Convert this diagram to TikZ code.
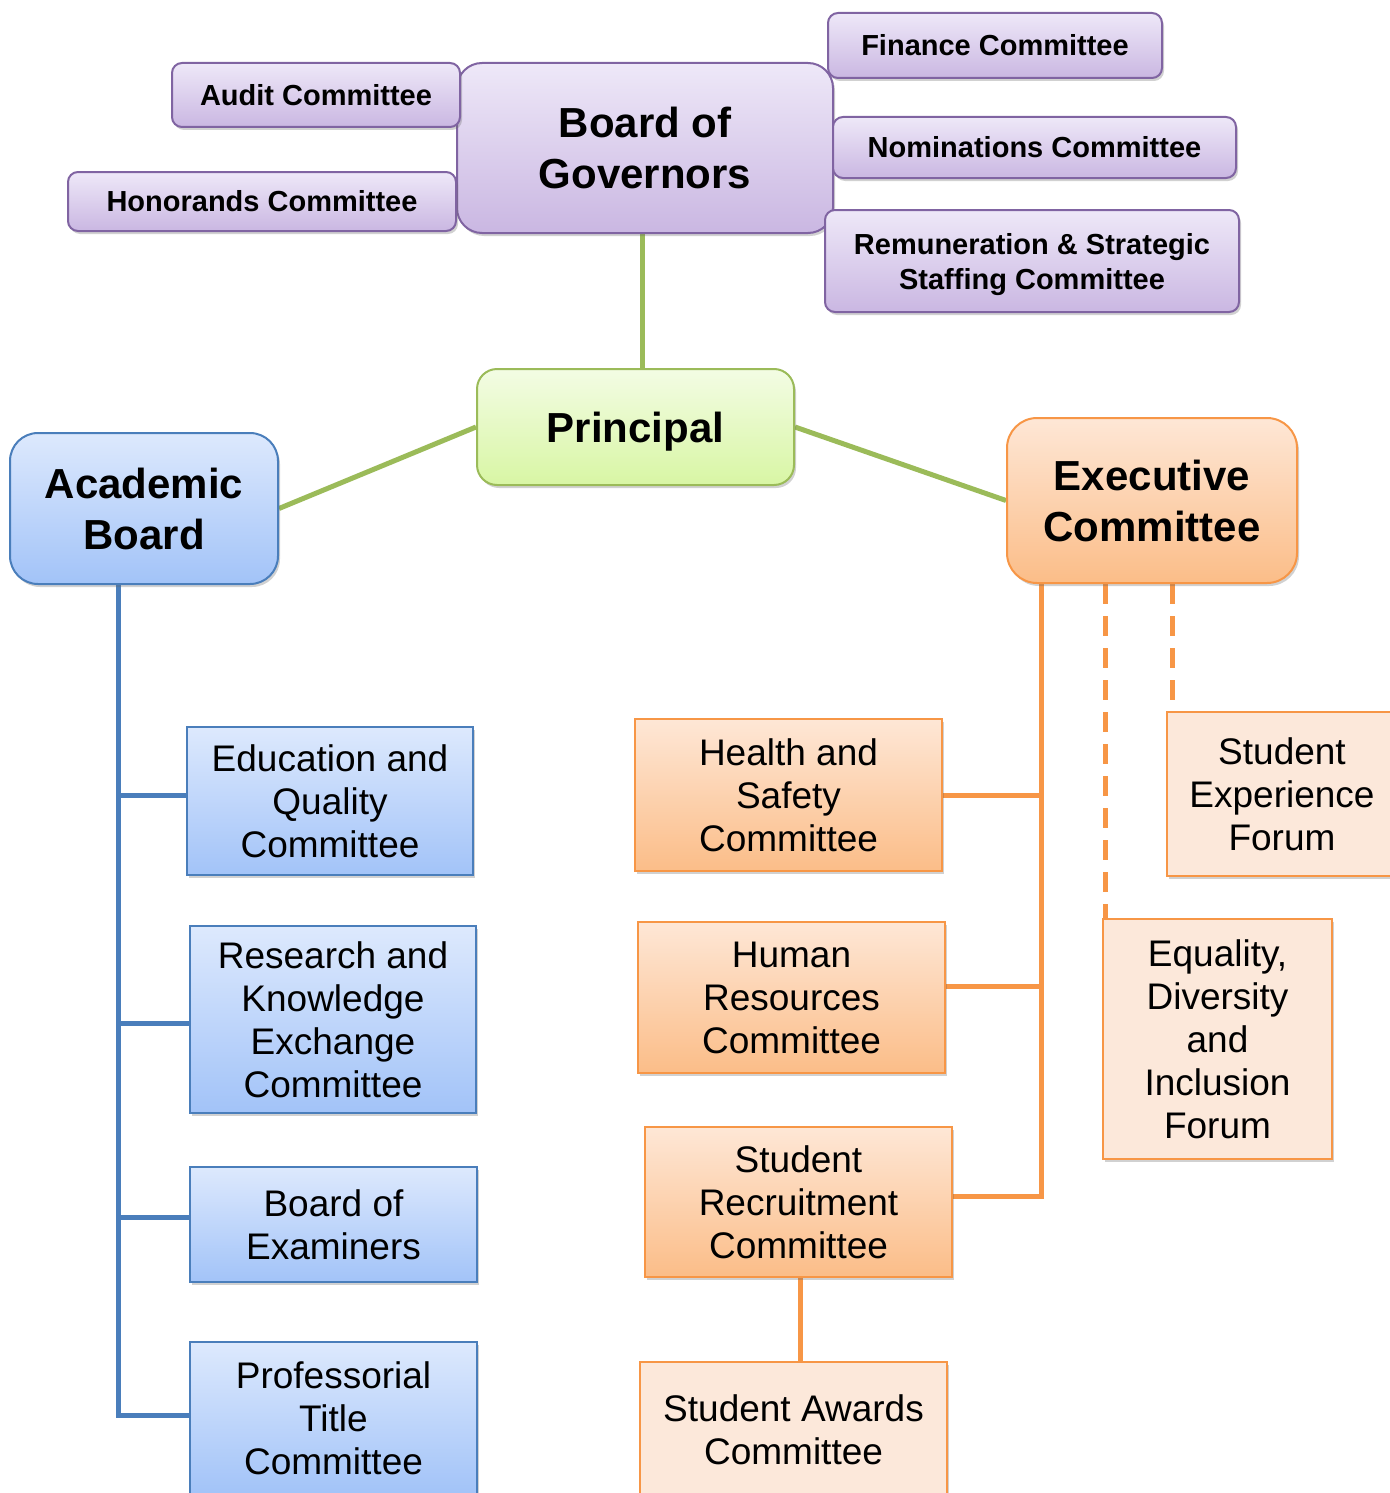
\documentclass[tikz,border=0pt]{standalone}
\usepackage{fontspec}
\setmainfont{Liberation Sans}
\usetikzlibrary{shadows}
\definecolor{purBd}{HTML}{8064A2}
\definecolor{purTop}{HTML}{EEE8F8}
\definecolor{purBot}{HTML}{CAB7E2}
\definecolor{bluBd}{HTML}{4A7EBB}
\definecolor{bluTop}{HTML}{DDE9FD}
\definecolor{bluBot}{HTML}{A2C3F8}
\definecolor{grnBd}{HTML}{9BBB59}
\definecolor{grnTop}{HTML}{F3FCE4}
\definecolor{grnBot}{HTML}{D8F6A4}
\definecolor{orgBd}{HTML}{F79646}
\definecolor{orgTop}{HTML}{FEE7D6}
\definecolor{orgBot}{HTML}{FBBD88}
\definecolor{orgLt}{HTML}{FCE8DA}
\pgfdeclarelayer{bg}
\pgfsetlayers{bg,main}
\begin{document}
\begin{tikzpicture}[x=1pt,y=-1pt,
  shad/.style={drop shadow={shadow xshift=2pt,shadow yshift=-3pt,opacity=0.3,fill=black!60}},
  basebox/.style={draw,line width=2pt,inner sep=0pt,align=center,shad},
  smallfont/.style={font=\fontsize{29}{35}\selectfont\bfseries},
  bigfont/.style={font=\fontsize{42}{51}\selectfont\bfseries},
  regfont/.style={font=\fontsize{37}{43}\selectfont},
  pbox/.style={basebox,draw=purBd,top color=purTop,bottom color=purBot,rounded corners=10pt,smallfont},
  bigp/.style={basebox,draw=purBd,top color=purTop,bottom color=purBot,rounded corners=25pt,bigfont},
  gbox/.style={basebox,draw=grnBd,top color=grnTop,bottom color=grnBot,rounded corners=20pt,bigfont},
  bbig/.style={basebox,draw=bluBd,top color=bluTop,bottom color=bluBot,rounded corners=28pt,bigfont},
  obig/.style={basebox,draw=orgBd,top color=orgTop,bottom color=orgBot,rounded corners=30pt,bigfont},
  bbox/.style={basebox,draw=bluBd,top color=bluTop,bottom color=bluBot,regfont},
  obox/.style={basebox,draw=orgBd,top color=orgTop,bottom color=orgBot,regfont},
  lbox/.style={basebox,draw=orgBd,fill=orgLt,regfont},
  gline/.style={draw=grnBd,line width=5pt},
  bline/.style={draw=bluBd,line width=5pt},
  oline/.style={draw=orgBd,line width=5pt},
  dline/.style={draw=orgBd,line width=5pt,dash pattern=on 20pt off 12pt},
  wh/.style 2 args={minimum width=#1,minimum height=#2}
]
\useasboundingbox (0,0) rectangle (1389,1493);

% top: board of governors and its committees
\node[bigp,wh={376pt}{170pt}] (bog) at (645,148) {Board of\\Governors};
\node[pbox,wh={288pt}{64pt}] (audit) at (316,95) {Audit Committee};
\node[pbox,wh={388pt}{59pt}] (hon) at (262,201.5) {Honorands Committee};
\node[pbox,wh={334pt}{65pt}] (fin) at (995,45.5) {Finance Committee};
\node[pbox,wh={403pt}{61pt}] (nom) at (1034.5,147.5) {Nominations Committee};
\node[pbox,wh={414pt}{102pt},text depth=0pt] (rem) at (1032,261) {Remuneration \& Strategic\\Staffing Committee};

% second tier
\node[gbox,wh={317pt}{116pt},text depth=0pt] (pri) at (635.5,427) {Principal};
\node[bbig,wh={268pt}{151pt}] (ab) at (144,508.5) {Academic\\Board};
\node[obig,wh={290pt}{165pt}] (exec) at (1152,500.5) {Executive\\Committee};

% academic board committees
\node[bbox,wh={286pt}{148pt}] (edu) at (330,801) {Education and\\Quality\\Committee};
\node[bbox,wh={286pt}{187pt},text depth=0pt] (rke) at (333,1019.5) {Research and\\Knowledge\\Exchange\\Committee};
\node[bbox,wh={287pt}{115pt}] (boe) at (333.5,1224.5) {Board of\\Examiners};
\node[bbox,wh={287pt}{152pt}] (ptc) at (333.5,1418) {Professorial\\Title\\Committee};

% executive committee committees
\node[obox,wh={307pt}{152pt}] (hs) at (788.5,795) {Health and\\Safety\\Committee};
\node[obox,wh={307pt}{151pt}] (hr) at (791.5,997.5) {Human\\Resources\\Committee};
\node[obox,wh={307pt}{150pt}] (sr) at (798.5,1202) {Student\\Recruitment\\Committee};
\node[lbox,wh={307pt}{136pt}] (sa) at (793.5,1430) {Student Awards\\Committee};
\node[lbox,wh={230pt}{164pt}] (sef) at (1282,794) {Student\\Experience\\Forum};
\node[lbox,wh={229pt}{240pt}] (edi) at (1217.5,1039) {Equality,\\Diversity\\and\\Inclusion\\Forum};

\coordinate (gx) at (642,0);
\coordinate (abx) at (118,0);
\coordinate (exx) at (1041,0);
\coordinate (d1x) at (1105,0);
\coordinate (d2x) at (1172,0);
\coordinate (sax) at (800,0);
\coordinate (yedu) at (0,795);
\coordinate (yrke) at (0,1023);
\coordinate (yboe) at (0,1217);
\coordinate (yptc) at (0,1415);
\coordinate (yhs) at (0,795);
\coordinate (yhr) at (0,986);
\coordinate (ysr) at (0,1196);

\begin{pgfonlayer}{bg}
\draw[gline] (bog.south -| gx) -- (pri.north -| gx);
\draw[gline] (pri.west) -- (ab.east);
\draw[gline] (pri.east) -- (exec.west);
\draw[bline] (ab.south -| abx) -- (abx |- yptc) -- (ptc.west |- yptc);
\draw[bline] (abx |- yedu) -- (edu.west |- yedu);
\draw[bline] (abx |- yrke) -- (rke.west |- yrke);
\draw[bline] (abx |- yboe) -- (boe.west |- yboe);
\draw[oline] (exec.south -| exx) -- (exx |- ysr) -- (sr.east |- ysr);
\draw[oline] (exx |- yhs) -- (hs.east |- yhs);
\draw[oline] (exx |- yhr) -- (hr.east |- yhr);
\draw[oline] (sr.south -| sax) -- (sa.north -| sax);
\draw[dline] (exec.south -| d1x) -- (edi.north -| d1x);
\draw[dline] (exec.south -| d2x) -- (sef.north -| d2x);
\end{pgfonlayer}
\end{tikzpicture}
\end{document}
